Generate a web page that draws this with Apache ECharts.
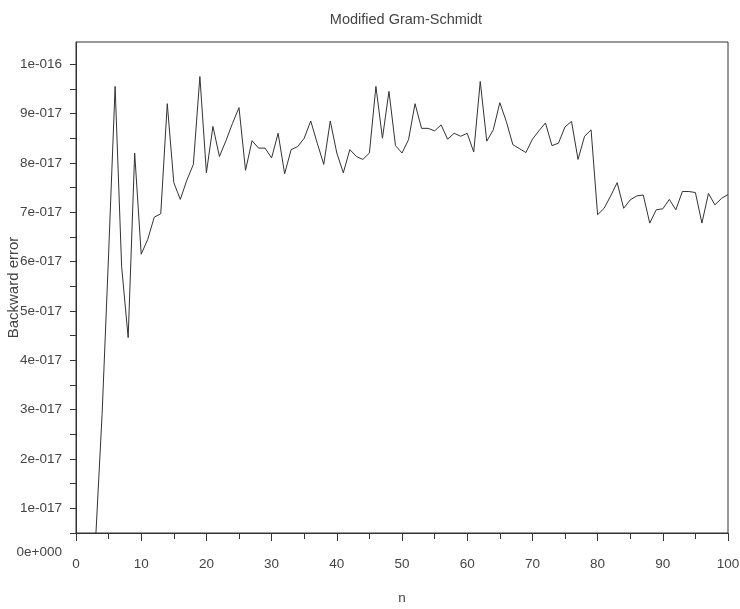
<!DOCTYPE html>
<html><head><meta charset="utf-8">
<script src="https://cdn.jsdelivr.net/npm/echarts@6.0.0/dist/echarts.min.js"></script>
<style>html,body{margin:0;padding:0;background:#fff}#c{width:740px;height:609px}</style>
</head><body><div id="c"></div>
<script>
const titleText = 'Modified Gram-Schmidt';
const xName = 'n';
const yName = 'Backward error';
const nValues = [1,2,3,4,5,6,7,8,9,10,11,12,13,14,15,16,17,18,19,20,21,22,23,24,25,26,27,28,29,30,31,32,33,34,35,36,37,38,39,40,41,42,43,44,45,46,47,48,49,50,51,52,53,54,55,56,57,58,59,60,61,62,63,64,65,66,67,68,69,70,71,72,73,74,75,76,77,78,79,80,81,82,83,84,85,86,87,88,89,90,91,92,93,94,95,96,97,98,99,100];
const errValues = [
  0e-17, 0e-17, 0.35e-17, 2.9e-17, 6.15e-17, 9.55e-17, 5.9e-17, 4.46e-17, 8.2e-17, 6.15e-17,
  6.45e-17, 6.9e-17, 6.97e-17, 9.2e-17, 7.6e-17, 7.26e-17, 7.65e-17, 7.97e-17, 9.75e-17, 7.8e-17,
  8.74e-17, 8.13e-17, 8.45e-17, 8.8e-17, 9.12e-17, 7.85e-17, 8.45e-17, 8.3e-17, 8.3e-17, 8.1e-17,
  8.6e-17, 7.78e-17, 8.27e-17, 8.33e-17, 8.5e-17, 8.85e-17, 8.4e-17, 7.97e-17, 8.85e-17, 8.2e-17,
  7.8e-17, 8.27e-17, 8.13e-17, 8.07e-17, 8.2e-17, 9.55e-17, 8.5e-17, 9.45e-17, 8.35e-17, 8.2e-17,
  8.47e-17, 9.2e-17, 8.7e-17, 8.7e-17, 8.65e-17, 8.77e-17, 8.48e-17, 8.6e-17, 8.54e-17, 8.6e-17,
  8.22e-17, 9.65e-17, 8.44e-17, 8.67e-17, 9.22e-17, 8.84e-17, 8.37e-17, 8.29e-17, 8.21e-17, 8.48e-17,
  8.65e-17, 8.81e-17, 8.35e-17, 8.4e-17, 8.73e-17, 8.84e-17, 8.07e-17, 8.54e-17, 8.67e-17, 6.95e-17,
  7.08e-17, 7.33e-17, 7.6e-17, 7.08e-17, 7.25e-17, 7.33e-17, 7.35e-17, 6.78e-17, 7.05e-17, 7.07e-17,
  7.26e-17, 7.05e-17, 7.42e-17, 7.42e-17, 7.4e-17, 6.78e-17, 7.38e-17, 7.15e-17, 7.28e-17, 7.36e-17
];
const yTickValues = [1e-17,2e-17,3e-17,4e-17,5e-17,6e-17,7e-17,8e-17,9e-17,1e-16];
const yTickLabels = ['1e-017','2e-017','3e-017','4e-017','5e-017','6e-017','7e-017','8e-017','9e-017','1e-016'];
const yAllTicks = [5e-18,1e-17,1.5e-17,2e-17,2.5e-17,3e-17,3.5e-17,4e-17,4.5e-17,5e-17,5.5e-17,6e-17,6.5e-17,7e-17,7.5e-17,8e-17,8.5e-17,9e-17,9.5e-17,1e-16];
const zeroValue = 0;
const zeroLabel = '0e+000';
const yMin = 5e-18, yMax = 1.045e-16;

const FONT = 'Liberation Sans, Arial, sans-serif';
const TXT = '#444';
const LINE = '#333';
const LBL = 13.5;

const chart = echarts.init(document.getElementById('c'), null, {renderer: 'canvas'});
chart.setOption({
  backgroundColor: '#fff',
  animation: false,
  title: {
    text: titleText, left: 401, top: 7, textAlign: 'center',
    textStyle: {fontFamily: FONT, fontSize: 14.5, fontWeight: 'normal', color: TXT}
  },
  grid: {left: 76, right: 12, top: 42, bottom: 76, show: true, borderColor: LINE, borderWidth: 1,
         containLabel: false, outerBoundsMode: 'none'},
  xAxis: {
    type: 'value', min: 0, max: 100, interval: 10,
    name: xName, nameLocation: 'middle', nameGap: 58, nameMoveOverlap: false,
    nameTextStyle: {fontFamily: FONT, fontSize: LBL, color: TXT},
    axisLine: {show: true, lineStyle: {color: LINE, width: 1}},
    axisTick: {show: true, length: 8, lineStyle: {color: LINE}},
    minorTick: {show: true, splitNumber: 2, length: 6, lineStyle: {color: LINE}},
    axisLabel: {fontFamily: FONT, fontSize: LBL, color: TXT, margin: 24},
    splitLine: {show: false}
  },
  yAxis: {
    type: 'value', min: yMin, max: yMax,
    name: yName, nameLocation: 'middle', nameGap: 55, nameRotate: 90, nameMoveOverlap: false,
    nameTextStyle: {fontFamily: FONT, fontSize: 15, color: TXT},
    axisLine: {show: true, lineStyle: {color: LINE, width: 1}},
    axisTick: {show: true, length: 6, customValues: yAllTicks, lineStyle: {color: LINE}},
    axisLabel: {
      fontFamily: FONT, fontSize: LBL, color: TXT, margin: 14, padding: [0,0,5,0],
      customValues: yTickValues,
      formatter: function (v) {
        for (let i = 0; i < yTickValues.length; i++) {
          if (Math.abs(yTickValues[i] - v) < 1e-20) return yTickLabels[i];
        }
        return '';
      }
    },
    splitLine: {show: false}
  },
  series: [{
    type: 'line',
    data: nValues.map((n, i) => [n, errValues[i]]),
    showSymbol: false,
    clip: true,
    lineStyle: {color: LINE, width: 1},
    itemStyle: {color: LINE}
  }]
});

const py = chart.convertToPixel({yAxisIndex: 0}, zeroValue);
const px = chart.convertToPixel({xAxisIndex: 0}, 0);
chart.setOption({
  graphic: [{
    type: 'text', x: px - 14, y: py - 5,
    style: {text: zeroLabel, align: 'right', verticalAlign: 'middle', fontFamily: FONT, fontSize: LBL, fill: TXT}
  }]
});
</script>
</body></html>
